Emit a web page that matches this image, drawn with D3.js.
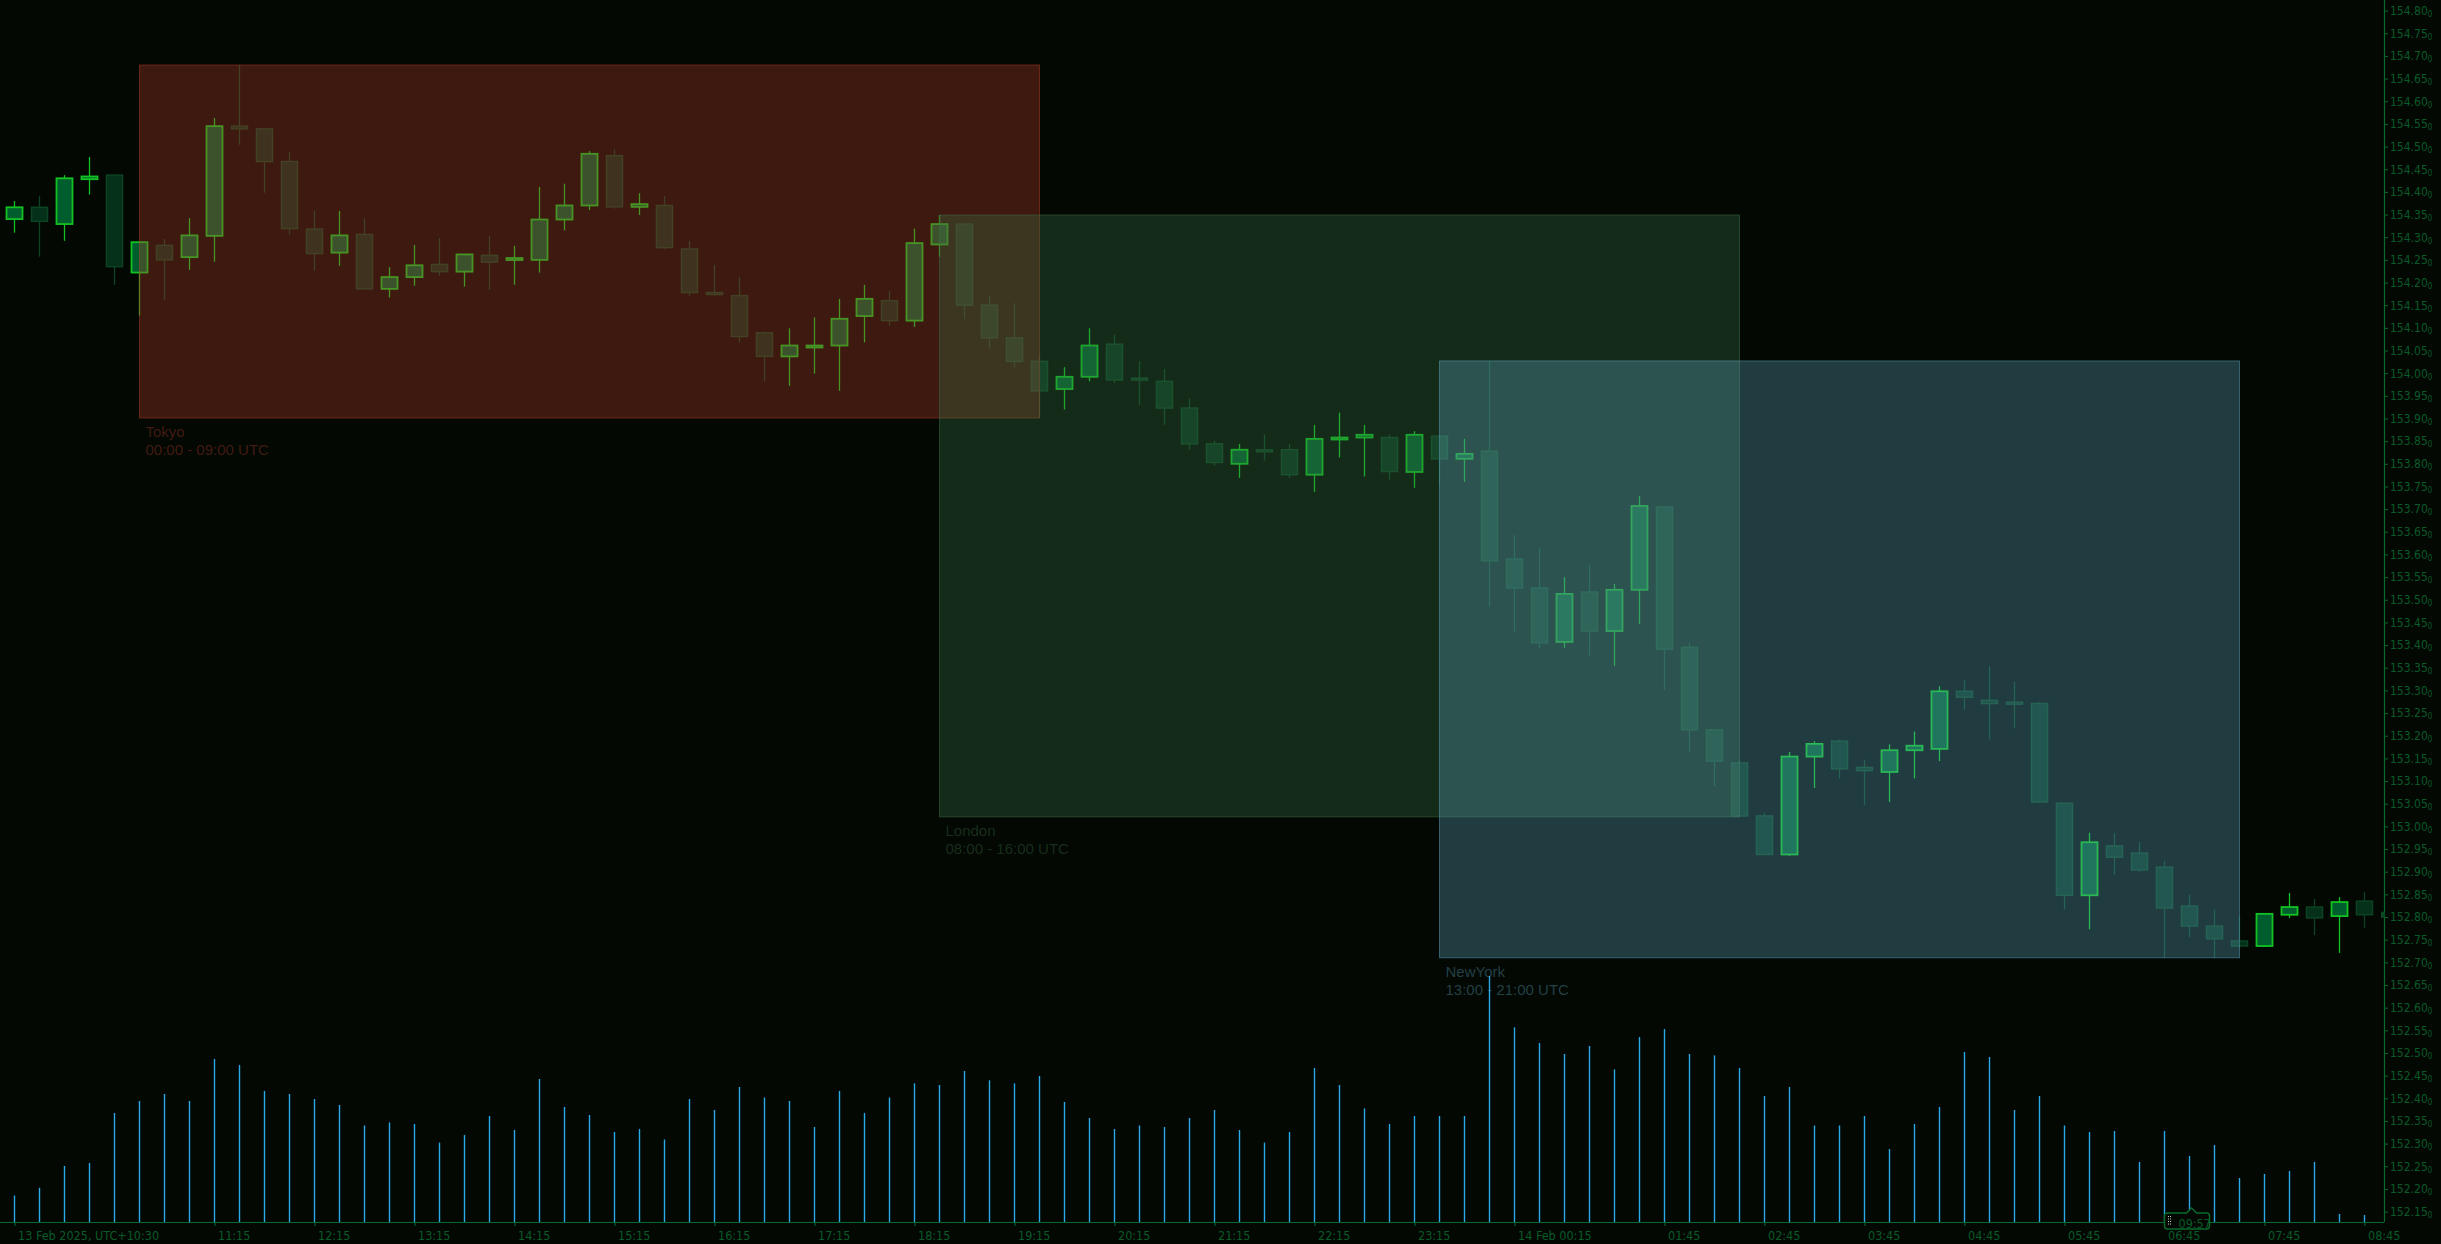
<!DOCTYPE html>
<html>
<head>
<meta charset="utf-8">
<title>15m candles with sessions</title>
<script src="https://cdn.jsdelivr.net/npm/d3@7"></script>
<style>
  html, body { margin: 0; padding: 0; background: #030803; }
  svg { display: block; }
  .ax text { font-family: "DejaVu Sans Condensed", "DejaVu Sans", sans-serif; font-stretch: condensed; font-size: 12px; }
  .tx text { font-size: 12.5px; }
</style>
</head>
<body>
<svg id="chart" width="2441" height="1244"></svg>
<script>
// 15 minute bars, 13 Feb 2025 09:15 .. 14 Feb 08:45 (UTC+10:30)
var opens = [154.340,154.366,154.329,154.428,154.437,154.222,154.282,154.256,154.303,154.545,
  154.539,154.467,154.318,154.266,154.306,154.186,154.212,154.240,154.224,154.260,
  154.251,154.250,154.339,154.370,154.480,154.367,154.370,154.274,154.178,154.171,
  154.089,154.037,154.058,154.061,154.126,154.160,154.116,154.284,154.329,154.150,
  154.078,154.026,153.965,153.992,154.064,153.989,153.982,153.923,153.844,153.800,
  153.831,153.831,153.776,153.855,153.858,153.858,153.782,153.861,153.811,153.828,
  153.590,153.526,153.407,153.517,153.431,153.522,153.705,153.395,153.213,153.140,
  153.023,152.938,153.154,153.188,153.130,153.120,153.168,153.171,153.298,153.278,
  153.274,153.271,153.051,152.848,152.957,152.941,152.910,152.824,152.780,152.747,
  152.736,152.805,152.822,152.802,152.835];
var highs = [154.380,154.391,154.437,154.477,154.438,154.289,154.296,154.342,154.563,154.680,
  154.539,154.488,154.358,154.358,154.342,154.234,154.283,154.298,154.263,154.303,
  154.281,154.411,154.418,154.490,154.494,154.397,154.391,154.292,154.239,154.212,
  154.092,154.099,154.123,154.164,154.195,154.181,154.319,154.349,154.329,154.171,
  154.154,154.040,154.013,154.099,154.085,154.026,154.009,153.944,153.851,153.844,
  153.865,153.844,153.886,153.913,153.886,153.865,153.872,153.864,153.855,154.027,
  153.643,153.614,153.550,153.577,153.535,153.729,153.705,153.405,153.213,153.147,
  153.030,153.164,153.188,153.192,153.147,153.181,153.209,153.309,153.322,153.353,
  153.319,153.274,153.051,152.986,152.985,152.966,152.924,152.849,152.816,152.802,
  152.807,152.853,152.840,152.844,152.855];
var lows = [154.310,154.257,154.292,154.394,154.195,154.127,154.162,154.228,154.246,154.504,
  154.398,154.306,154.226,154.237,154.184,154.167,154.193,154.215,154.191,154.184,
  154.195,154.222,154.315,154.360,154.363,154.349,154.274,154.171,154.171,154.068,
  153.982,153.972,153.999,153.961,154.068,154.105,154.102,154.257,154.119,154.054,
  154.013,153.901,153.920,153.982,153.978,153.930,153.886,153.831,153.796,153.769,
  153.807,153.769,153.738,153.814,153.772,153.765,153.747,153.753,153.760,153.484,
  153.429,153.394,153.394,153.376,153.354,153.447,153.301,153.164,153.089,153.021,
  152.936,152.935,153.085,153.106,153.047,153.054,153.106,153.144,153.257,153.192,
  153.216,153.051,152.817,152.773,152.893,152.899,152.710,152.756,152.710,152.732,
  152.734,152.798,152.760,152.721,152.776];
var closes = [154.366,154.335,154.430,154.434,154.235,154.289,154.250,154.304,154.545,154.539,
  154.467,154.319,154.264,154.304,154.186,154.212,154.238,154.224,154.262,154.245,
  154.254,154.339,154.370,154.484,154.367,154.373,154.277,154.178,154.174,154.081,
  154.037,154.061,154.061,154.120,154.164,154.116,154.287,154.329,154.150,154.078,
  154.026,153.961,153.992,154.061,153.985,153.985,153.923,153.844,153.803,153.831,
  153.827,153.776,153.855,153.858,153.864,153.783,153.864,153.811,153.822,153.586,
  153.526,153.405,153.513,153.431,153.522,153.707,153.391,153.213,153.144,153.023,
  152.938,153.154,153.182,153.127,153.123,153.168,153.178,153.298,153.285,153.271,
  153.271,153.054,152.848,152.965,152.932,152.904,152.820,152.780,152.752,152.736,
  152.807,152.822,152.798,152.833,152.805];
var volumes = [265,342,560,590,1090,1210,1280,1210,1630,1570,
  1310,1280,1230,1170,965,996,980,794,870,1060,
  920,1430,1150,1070,900,930,825,1230,1120,1350,
  1245,1210,950,1310,1090,1245,1386,1370,1510,1417,
  1386,1460,1200,1040,930,965,950,1040,1120,920,
  794,900,1540,1370,1136,980,1060,1060,1060,2460,
  1946,1790,1680,1760,1526,1850,1930,1680,1666,1540,
  1260,1350,965,965,1060,730,980,1150,1700,1650,
  1120,1260,965,900,910,600,910,660,770,440,
  480,510,600,80,70];

var timeTickIdx = [0,8,12,16,20,24,28,32,36,40,44,48,52,56,60,66,70,74,78,82,86,90,94];
var timeTickLabels = ["13 Feb 2025, UTC+10:30","11:15","12:15","13:15","14:15","15:15","16:15",
  "17:15","18:15","19:15","20:15","21:15","22:15","23:15","14 Feb 00:15","01:45","02:45",
  "03:45","04:45","05:45","06:45","07:45","08:45"];

var sessionNames = ["Tokyo", "London", "NewYork"];
var sessionStart = ["2025-02-13T00:00:00Z", "2025-02-13T08:00:00Z", "2025-02-13T13:00:00Z"];
var sessionEnd = ["2025-02-13T09:00:00Z", "2025-02-13T16:00:00Z", "2025-02-13T21:00:00Z"];
var sessionColors = ["rgb(176,60,40)", "rgb(60,110,70)", "rgb(90,160,185)"];

var countdown = "09:57";

var bg = "#030803";
var axisColor = "#0a6a2c";
var textColor = "#0a5a29";
var axisX = 2384, axisY = 1222;

var svg = d3.select("#chart");
svg.append("rect").attr("width", 2441).attr("height", 1244).attr("fill", bg);

var t0 = Date.UTC(2025, 1, 12, 22, 45);
var bars = closes.map(function(c, i) {
  return { t: new Date(t0 + i * 15 * 60000), o: opens[i], h: highs[i], l: lows[i], c: c, v: volumes[i] };
});

var x = d3.scaleTime().domain([bars[0].t, bars[bars.length - 1].t]).range([14.5, 2364.5]);
var y = d3.scaleLinear().domain([152.15, 154.80]).range([1211.6, 10.6]);
var yv = d3.scaleLinear().domain([0, d3.max(volumes)]).range([axisY, 976]);

// volume
svg.append("g").selectAll("line").data(bars).enter().append("line")
  .attr("x1", function(d) { return x(d.t); })
  .attr("x2", function(d) { return x(d.t); })
  .attr("y1", axisY)
  .attr("y2", function(d) { return yv(d.v); })
  .attr("stroke", "#2aa9e6")
  .attr("stroke-width", 1.4);

// candles
var up = function(d) { return d.c >= d.o; };
var cg = svg.append("g").selectAll("g").data(bars).enter().append("g");
cg.append("line")
  .attr("x1", function(d) { return x(d.t); })
  .attr("x2", function(d) { return x(d.t); })
  .attr("y1", function(d) { return y(d.h); })
  .attr("y2", function(d) { return y(d.l); })
  .attr("stroke", function(d) { return up(d) ? "#12c222" : "#0c4322"; })
  .attr("stroke-width", 1.3);
cg.append("rect")
  .attr("x", function(d) { return x(d.t) - 8; })
  .attr("width", 16)
  .attr("y", function(d) { return y(Math.max(d.o, d.c)); })
  .attr("height", function(d) { return Math.max(2, Math.abs(y(d.o) - y(d.c))); })
  .attr("fill", function(d) { return up(d) ? "#005e2e" : "#05301a"; })
  .attr("stroke", function(d) { return up(d) ? "#12c222" : "#0c4322"; })
  .attr("stroke-width", function(d) { return up(d) ? 1.8 : 1.5; });

// sessions
var fmt = d3.utcFormat("%H:%M");
var sessions = sessionNames.map(function(name, k) {
  var s = new Date(sessionStart[k]), e = new Date(sessionEnd[k]);
  var inside = bars.filter(function(d) { return d.t >= s && d.t <= e; });
  return { name: name, s: s, e: e, color: sessionColors[k],
    top: d3.max(inside, function(d) { return d.h; }),
    bottom: d3.min(inside, function(d) { return d.l; }) };
});
var sg = svg.append("g").selectAll("g").data(sessions).enter().append("g");
sg.append("rect")
  .attr("x", function(d) { return x(d.s); })
  .attr("y", function(d) { return y(d.top); })
  .attr("width", function(d) { return x(d.e) - x(d.s); })
  .attr("height", function(d) { return y(d.bottom) - y(d.top); })
  .attr("fill", function(d) { return d.color; })
  .attr("fill-opacity", 0.34)
  .attr("stroke", function(d) { return d.color; })
  .attr("stroke-opacity", 0.5)
  .attr("stroke-width", 1);
var st = sg.append("text")
  .attr("font-family", "'Liberation Sans', Arial, sans-serif")
  .attr("font-size", 15)
  .attr("fill", function(d) { return d.color; })
  .attr("fill-opacity", 0.38);
st.append("tspan")
  .attr("x", function(d) { return x(d.s) + 6; })
  .attr("y", function(d) { return y(d.bottom) + 19; })
  .text(function(d) { return d.name; });
st.append("tspan")
  .attr("x", function(d) { return x(d.s) + 6; })
  .attr("y", function(d) { return y(d.bottom) + 37; })
  .text(function(d) { return fmt(d.s) + " - " + fmt(d.e) + " UTC"; });

// price axis
var priceTicks = d3.range(0, 54).map(function(k) { return +(152.15 + k * 0.05).toFixed(2); });
var ya = svg.append("g").attr("class", "ax").attr("transform", "translate(" + axisX + ",0)")
  .call(d3.axisRight(y).tickValues(priceTicks).tickSize(4).tickPadding(2).tickFormat(d3.format(".2f")));
ya.select(".domain").remove();
ya.selectAll("line").attr("stroke", axisColor);
ya.selectAll("text").attr("fill", textColor)
  .append("tspan").attr("font-size", 8).attr("dy", "0.25em").text("0");

// time axis
var xa = svg.append("g").attr("class", "ax tx").attr("transform", "translate(0," + axisY + ")")
  .call(d3.axisBottom(x).tickValues(timeTickIdx.map(function(i) { return bars[i].t; }))
    .tickSize(4).tickPadding(5).tickFormat(function(d, i) { return timeTickLabels[i]; }));
xa.select(".domain").remove();
xa.selectAll("line").attr("stroke", axisColor);
xa.selectAll("text").attr("fill", textColor).attr("text-anchor", "start").attr("dx", 3);

svg.append("line").attr("x1", 0).attr("x2", axisX).attr("y1", axisY + 0.5).attr("y2", axisY + 0.5)
  .attr("stroke", axisColor).attr("stroke-width", 1.2);
svg.append("line").attr("x1", axisX + 0.5).attr("x2", axisX + 0.5).attr("y1", 0).attr("y2", axisY)
  .attr("stroke", axisColor).attr("stroke-width", 1.2);

// last price handle
var last = bars[bars.length - 1];
svg.append("rect").attr("x", axisX - 3).attr("y", y(last.c) - 3).attr("width", 4).attr("height", 6)
  .attr("fill", "#0b4a24");

// countdown label on the time axis
var cx0 = x(bars[86].t);
var cd = svg.append("g").attr("transform", "translate(" + cx0 + "," + (axisY - 9) + ")");
cd.append("path")
  .attr("d", "M3,0 H22 L27,-5 L32,0 H42 Q45,0 45,3 V13 Q45,16 42,16 H3 Q0,16 0,13 V3 Q0,0 3,0 Z")
  .attr("fill", bg).attr("stroke", axisColor).attr("stroke-width", 1.4);
[3, 5.5, 8, 10.5].forEach(function(dy) {
  [3.5, 5.5].forEach(function(dx) {
    cd.append("rect").attr("x", dx).attr("y", dy).attr("width", 1).attr("height", 1).attr("fill", "#c8c8c8");
  });
});
cd.append("text").attr("x", 14).attr("y", 14.5)
  .attr("font-family", "'DejaVu Sans Condensed', 'DejaVu Sans', sans-serif")
  .attr("font-stretch", "condensed").attr("font-size", 12.5)
  .attr("fill", textColor).text(countdown);
</script>
</body>
</html>
